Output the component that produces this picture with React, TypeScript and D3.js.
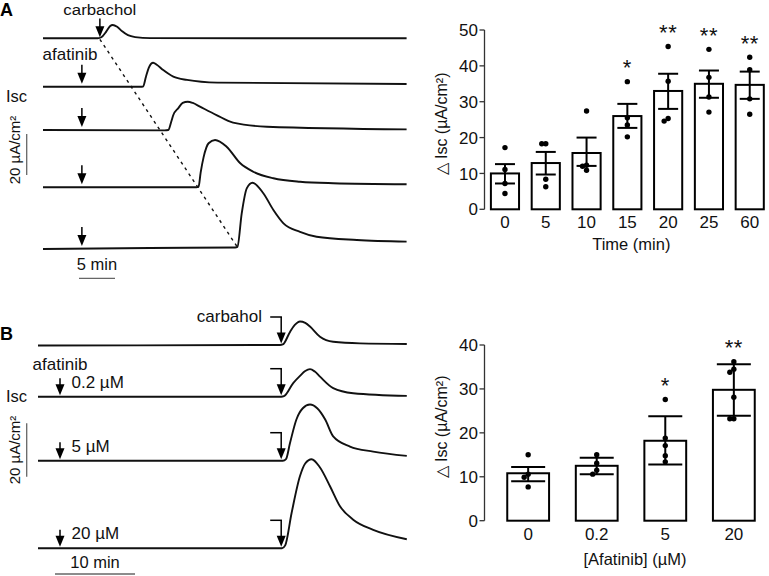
import React from "react";
import * as d3 from "d3";

// ---------- Panel A bar chart (time course) ----------
const timeCats = ["0", "5", "10", "15", "20", "25", "60"];
const timeMeans = [10, 12.9, 15.7, 26, 33, 35, 34.7];
const timeErrLo = [7.2, 9.7, 12.1, 22.7, 28, 31.1, 30.8];
const timeErrHi = [12.6, 16, 20, 29.4, 37.8, 38.7, 38.4];
const timePoints = [
  [17.2, 11.1, 7.2, 4.4],
  [18.3, 18.3, 8.4, 6.3],
  [27.4, 12.3, 12.0, 10.9],
  [35.6, 25.5, 23.5, 20.2],
  [45.4, 35.7, 25.3, 24.6],
  [44.6, 36.8, 31.3, 27.1],
  [42.4, 38.9, 30.8, 26.5],
];
const timeSig = ["", "", "", "*", "**", "**", "**"];
const timeTicks = [0, 10, 20, 30, 40, 50];

// ---------- Panel B bar chart (dose) ----------
const doseCats = ["0", "0.2", "5", "20"];
const doseMeans = [10.8, 12.5, 18.2, 29.8];
const doseErrLo = [9.0, 10.6, 12.8, 23.9];
const doseErrHi = [12.2, 14.35, 23.8, 35.6];
const dosePoints = [
  [15, 10.6, 9.9, 7.7],
  [15, 13.1, 11.5, 10.6],
  [27.6, 18.8, 17.1, 14.8, 13.4],
  [36.2, 34.5, 33.8, 28.1, 23.2, 23.2],
];
const doseSig = ["", "", "*", "**"];
const doseTicks = [0, 10, 20, 30, 40];

// ---------- Panel A traces (time in min, Isc change in µA/cm²) ----------
const traceA_t = [
  [0, 7.6, 8.1, 8.8, 9.3, 9.7, 10.3, 11.0, 11.8, 12.8, 14.9, 50.5],
  [0, 13.5, 13.9, 14.3, 14.7, 15.3, 15.8, 16.7, 18.1, 20.0, 24.2, 50.5],
  [0, 16.9, 17.4, 17.8, 18.1, 18.8, 19.4, 20.1, 20.8, 21.8, 24.1, 26.4, 31.1, 50.5],
  [0, 21.3, 21.6, 21.9, 22.3, 23.0, 23.9, 25.5, 27.4, 29.2, 32.0, 35.7, 40.3, 50.5],
  [0, 14.9, 26.7, 27.0, 27.6, 28.3, 29.1, 30.6, 32.0, 33.4, 35.7, 38.0, 43.6, 50.5],
];
const traceA_v = [
  [0, 0, 0.5, 3.4, 5.9, 6.5, 5.6, 3.4, 1.5, 0.6, 0.1, 0],
  [0, 0, 0.1, 4.9, 9.3, 11.7, 10.7, 8.1, 4.9, 3.3, 2.0, 1.3],
  [0, -0.2, 0, 3.9, 7.3, 10.7, 13.2, 13.8, 13.2, 11.4, 7.3, 3.6, 1.6, 0.3],
  [0, 0, 0.2, 7.3, 14.6, 21.5, 23.1, 19.8, 11.7, 7.6, 4.4, 2.7, 2.0, 1.5],
  [0, 0.5, 0.7, 1.0, 17.4, 29.6, 32.3, 27.2, 19.0, 12.5, 8.4, 6.0, 4.4, 3.6],
];
const carbacholA_t = 7.9;
const afatinibA_t = 5.4;
const lastRiseA_t = 26.9;

// ---------- Panel B traces ----------
const traceB_t = [
  [0, 30.25, 30.6, 31.5, 32.1, 32.75, 33.4, 34.0, 35.25, 36.9, 40.25, 46.1],
  [0, 30.4, 30.75, 31.9, 32.75, 33.4, 34.0, 34.6, 35.25, 36.9, 39.4, 46.1],
  [0, 30.6, 31.0, 31.5, 32.3, 33.1, 34.0, 34.9, 35.9, 36.9, 39.0, 41.9, 46.1],
  [0, 30.5, 30.9, 31.7, 32.75, 33.4, 34.2, 35.25, 36.5, 37.75, 39.4, 41.9, 46.1],
];
const traceB_v = [
  [-0.2, 0, 0.2, 4.9, 7.5, 8.8, 8.3, 6.9, 3.1, 1.2, 0.6, 0.4],
  [0, 0, 0.2, 5.1, 7.8, 9.6, 10.3, 9.4, 7.5, 3.2, 1.3, 0.3],
  [0, 0, 0.6, 6.6, 15.4, 19.6, 21.0, 19.6, 15.4, 9.1, 5.3, 3.4, 1.8],
  [0, 0, 1.1, 13.2, 27.0, 31.7, 33.3, 30.2, 23.2, 15.7, 10.7, 6.9, 3.4],
];
const doseLabels = ["", "0.2 µM", "5 µM", "20 µM"];
const carbacholB_t = 30.4;
const afatinibB_t = 2.75;

const FONT = "'Liberation Sans', Arial, Helvetica, sans-serif";

function Arrow({ x, top, tip, bracket = false }: { x: number; top: number; tip: number; bracket?: boolean }) {
  const hh = 11;
  const hw = 4.5;
  return (
    <g>
      <line x1={x} x2={x} y1={top} y2={tip - hh + 1} stroke="#000" strokeWidth={1.5} />
      <path d={`M${x - hw},${tip - hh}L${x + hw},${tip - hh}L${x},${tip}Z`} fill="#000" />
      {bracket && <line x1={x - 11} x2={x + 0.75} y1={top} y2={top} stroke="#000" strokeWidth={1.5} />}
    </g>
  );
}

function jitter(vals: number[], y: (v: number) => number): number[] {
  const offs: number[] = [];
  vals.forEach((v, i) => {
    let o = 0;
    for (let j = 0; j < i; j++) {
      if (Math.abs(y(vals[j]) - y(v)) < 5 && offs[j] === o) o = o === 0 ? -4 : o < 0 ? 4 : o;
    }
    offs.push(o);
  });
  return offs;
}

function BarPanel(props: {
  cats: string[];
  means: number[];
  lo: number[];
  hi: number[];
  pts: number[][];
  sig: string[];
  ticks: number[];
  y: d3.ScaleLinear<number, number>;
  x: d3.ScaleBand<string>;
  axisX: number;
  capW: number;
  xTitle: string;
  xTitleY: number;
  yTitleY: number;
}) {
  const { cats, means, lo, hi, pts, sig, ticks, y, x, axisX, capW, xTitle, xTitleY, yTitleY } = props;
  const y0 = y(0);
  const yTop = y(ticks[ticks.length - 1]);
  const bw = x.bandwidth();
  const starFs = 22;
  return (
    <g fontFamily={FONT}>
      <line x1={axisX} x2={axisX} y1={y0} y2={yTop} stroke="#333" strokeWidth={1.3} />
      {ticks.map((t) => (
        <g key={t}>
          <line x1={axisX - 5} x2={axisX} y1={y(t)} y2={y(t)} stroke="#333" strokeWidth={1.3} />
          <text x={axisX - 6.5} y={y(t)} dy="0.36em" textAnchor="end" fontSize={17} fill="#111">
            {t}
          </text>
        </g>
      ))}
      {cats.map((c, i) => {
        const cx = (x(c) as number) + bw / 2;
        const offs = jitter(pts[i], y);
        const topPt = Math.max(...pts[i], hi[i]);
        return (
          <g key={c}>
            <rect x={x(c) as number} y={y(means[i])} width={bw} height={y0 - y(means[i])} fill="#fff" stroke="#000" strokeWidth={2} />
            <line x1={cx} x2={cx} y1={y(lo[i])} y2={y(hi[i])} stroke="#000" strokeWidth={2} />
            <line x1={cx - capW / 2} x2={cx + capW / 2} y1={y(hi[i])} y2={y(hi[i])} stroke="#000" strokeWidth={2} />
            <line x1={cx - capW / 2} x2={cx + capW / 2} y1={y(lo[i])} y2={y(lo[i])} stroke="#000" strokeWidth={2} />
            {pts[i].map((v, k) => (
              <circle key={k} cx={cx + offs[k]} cy={y(v)} r={2.7} fill="#000" />
            ))}
            {sig[i] && (
              <text x={cx} y={y(topPt) - 19 + 0.575 * starFs} textAnchor="middle" fontSize={starFs} letterSpacing={0.5} fill="#111">
                {sig[i]}
              </text>
            )}
            <text x={cx} y={y0 + 19} textAnchor="middle" fontSize={17} fill="#111">
              {c}
            </text>
          </g>
        );
      })}
      <text x={(x.range()[0] + x.range()[1]) / 2 + 4} y={xTitleY} textAnchor="middle" fontSize={16.5} fill="#111">
        {xTitle}
      </text>
      <text transform={`translate(447,${yTitleY}) rotate(-90)`} textAnchor="middle" fontSize={16} fill="#111">
        △ Isc (µA/cm²)
      </text>
    </g>
  );
}

export default function App() {
  // --- panel A traces
  const xA = d3.scaleLinear().domain([0, 50.5]).range([43, 406.6]);
  const uA = d3.scaleLinear().domain([0, 20]).range([0, 41]);
  const baseA = [38.3, 86.7, 130, 187.3, 249];
  // --- panel B traces
  const xB = d3.scaleLinear().domain([0, 46.1]).range([38, 406.8]);
  const uB = d3.scaleLinear().domain([0, 20]).range([0, 53.5]);
  const baseB = [345, 396.7, 460.7, 548.3];

  const mkLine = (xs: d3.ScaleLinear<number, number>, u: d3.ScaleLinear<number, number>, base: number) =>
    d3
      .line<[number, number]>()
      .x((d) => xs(d[0]))
      .y((d) => base - u(d[1]))
      .curve(d3.curveMonotoneX);

  // --- bar charts
  const yBarA = d3.scaleLinear().domain([0, 50]).range([209.3, 30]);
  const xBarA = d3.scaleBand<string>().domain(timeCats).range([486, 768.7]).paddingInner(0.31).paddingOuter(0.12);
  const yBarB = d3.scaleLinear().domain([0, 40]).range([520.7, 345]);
  const xBarB = d3.scaleBand<string>().domain(doseCats).range([486, 776]).paddingInner(0.39).paddingOuter(0.31);

  const traceStroke = "#111";

  return (
    <svg width={769} height={576} style={{ position: "absolute", left: 0, top: 0, background: "#fff" }} fontFamily={FONT}>
      <rect width={769} height={576} fill="#fff" />
      {/* ===== Panel A ===== */}
      <text x={0} y={16} fontSize={18} fontWeight="bold" fill="#000">A</text>
      <text x={xA(carbacholA_t)} y={14.5} textAnchor="middle" fontSize={15.5} textLength={73} lengthAdjust="spacingAndGlyphs" fill="#111">carbachol</text>
      <text x={70} y={60} textAnchor="middle" fontSize={17} fill="#111">afatinib</text>
      <text x={6} y={102} fontSize={16.5} fill="#111">Isc</text>
      {traceA_t.map((ts, i) => (
        <path
          key={i}
          d={mkLine(xA, uA, baseA[i])(ts.map((t, k) => [t, traceA_v[i][k]] as [number, number])) || ""}
          fill="none"
          stroke={traceStroke}
          strokeWidth={1.9}
        />
      ))}
      <line
        x1={xA(carbacholA_t)}
        y1={baseA[0] + 1}
        x2={xA(lastRiseA_t)}
        y2={baseA[4] - 3}
        stroke="#111"
        strokeWidth={1.4}
        strokeDasharray="3,4"
      />
      <Arrow x={xA(carbacholA_t)} top={18.5} tip={baseA[0] - 1} />
      {baseA.slice(1).map((b, i) => (
        <Arrow key={i} x={xA(afatinibA_t)} top={b - 22} tip={b - 3} />
      ))}
      {/* vertical scale bar A */}
      <line x1={26.7} x2={26.7} y1={175} y2={175 - uA(20)} stroke="#666" strokeWidth={1.3} />
      <text transform={`translate(20,150) rotate(-90)`} textAnchor="middle" fontSize={15} fill="#111">20 µA/cm²</text>
      {/* horizontal scale bar A: 5 min */}
      <line x1={79} x2={79 + (xA(5) - xA(0))} y1={278.3} y2={278.3} stroke="#666" strokeWidth={1.3} />
      <text x={79 + (xA(5) - xA(0)) / 2} y={270} textAnchor="middle" fontSize={16.5} fill="#111">5 min</text>

      <BarPanel
        cats={timeCats}
        means={timeMeans}
        lo={timeErrLo}
        hi={timeErrHi}
        pts={timePoints}
        sig={timeSig}
        ticks={timeTicks}
        y={yBarA}
        x={xBarA}
        axisX={484.5}
        capW={20}
        xTitle="Time (min)"
        xTitleY={250}
        yTitleY={124}
      />

      {/* ===== Panel B ===== */}
      <text x={0} y={340} fontSize={18} fontWeight="bold" fill="#000">B</text>
      <text x={262} y={322} textAnchor="end" fontSize={17} fill="#111">carbahol</text>
      <text x={60} y={370} textAnchor="middle" fontSize={17} fill="#111">afatinib</text>
      <text x={6} y={402} fontSize={16.5} fill="#111">Isc</text>
      {traceB_t.map((ts, i) => (
        <path
          key={i}
          d={mkLine(xB, uB, baseB[i])(ts.map((t, k) => [t, traceB_v[i][k]] as [number, number])) || ""}
          fill="none"
          stroke={traceStroke}
          strokeWidth={1.9}
        />
      ))}
      {baseB.map((b, i) => (
        <Arrow key={"c" + i} x={xB(carbacholB_t)} top={b - 28} tip={b - 1.5} bracket />
      ))}
      {baseB.slice(1).map((b, i) => (
        <g key={"a" + i}>
          <Arrow x={xB(afatinibB_t)} top={b - 18.5} tip={b - 1.5} />
          <text x={71.5} y={b - 9} fontSize={17} fill="#111">{doseLabels[i + 1]}</text>
        </g>
      ))}
      {/* vertical scale bar B */}
      <line x1={26.7} x2={26.7} y1={476.7} y2={476.7 - uB(20)} stroke="#666" strokeWidth={1.3} />
      <text transform={`translate(20,450) rotate(-90)`} textAnchor="middle" fontSize={15} fill="#111">20 µA/cm²</text>
      {/* horizontal scale bar B: 10 min */}
      <line x1={55} x2={55 + (xB(10) - xB(0))} y1={574} y2={574} stroke="#666" strokeWidth={1.3} />
      <text x={55 + (xB(10) - xB(0)) / 2} y={568} textAnchor="middle" fontSize={16.5} fill="#111">10 min</text>

      <BarPanel
        cats={doseCats}
        means={doseMeans}
        lo={doseErrLo}
        hi={doseErrHi}
        pts={dosePoints}
        sig={doseSig}
        ticks={doseTicks}
        y={yBarB}
        x={xBarB}
        axisX={484.5}
        capW={34}
        xTitle="[Afatinib] (µM)"
        xTitleY={565}
        yTitleY={427}
      />
    </svg>
  );
}
